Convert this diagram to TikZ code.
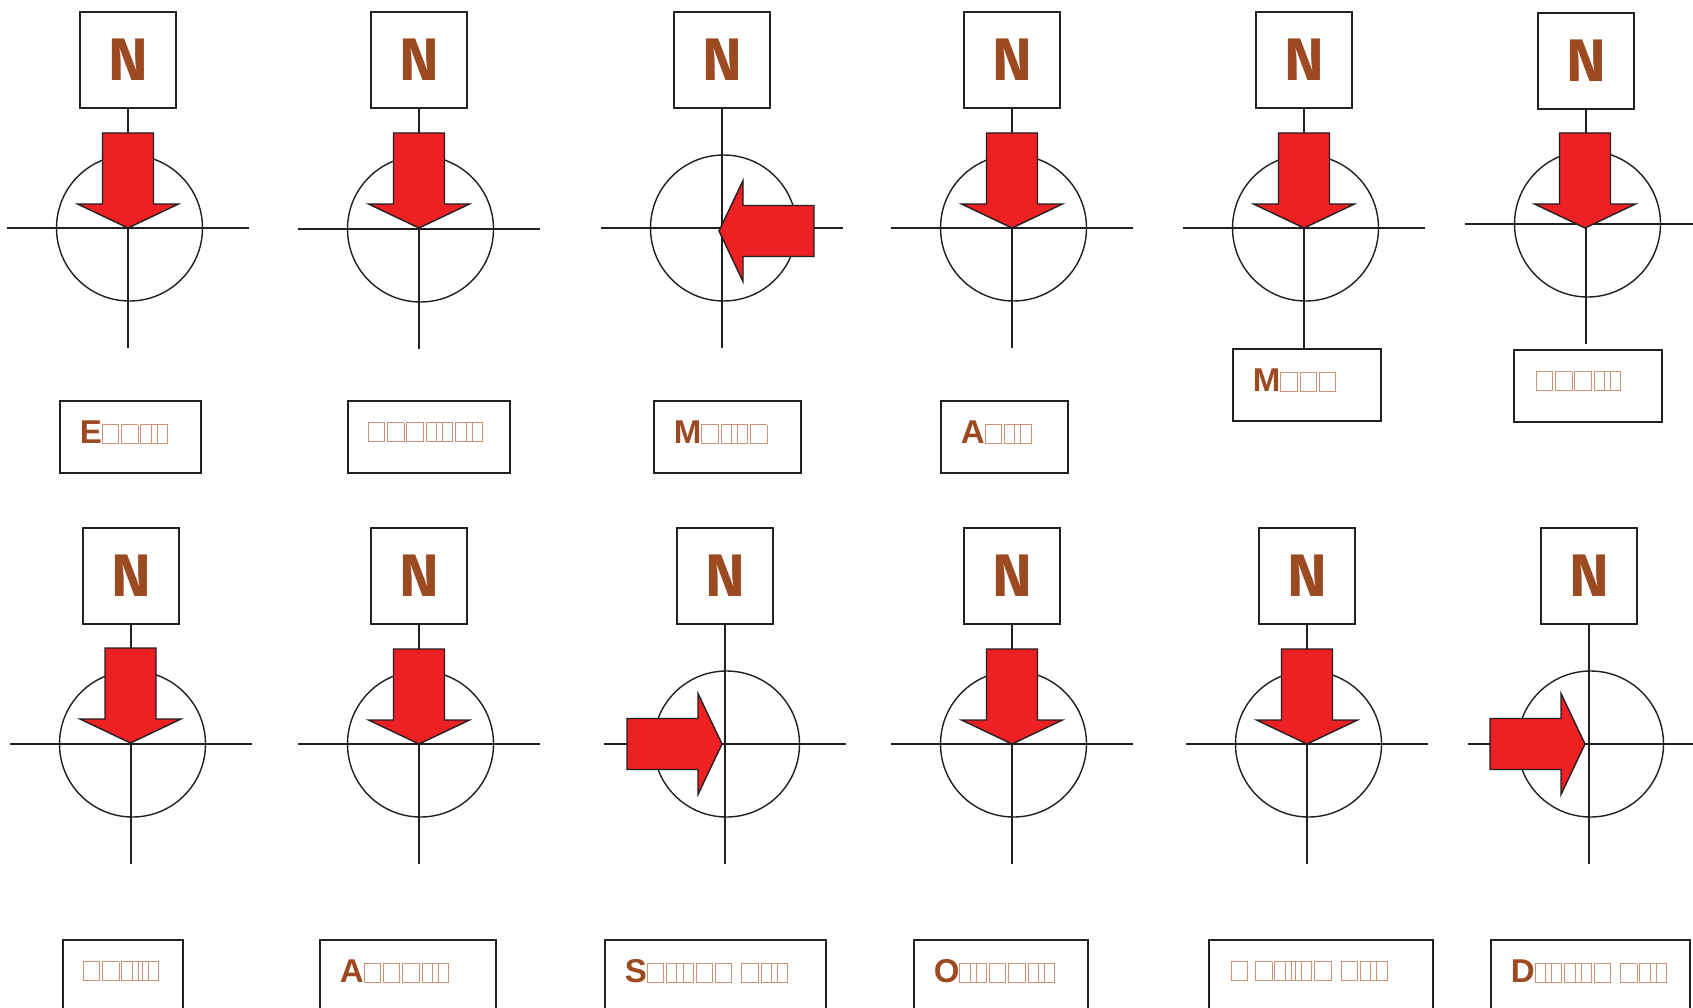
\documentclass[tikz,border=0pt]{standalone}
\usepackage{fontspec}
\setmainfont{Liberation Sans}
\newfontfamily\nfont{Fira Sans}
\usetikzlibrary{positioning}
\definecolor{ink}{RGB}{35,31,32}
\definecolor{red}{RGB}{237,32,36}
\definecolor{brown}{RGB}{156,74,34}
\definecolor{tofu}{RGB}{204,146,118}
\newcommand\tofubox{\textcolor{tofu}{\fboxsep=0pt\fboxrule=0.9pt\fbox{\rule{0pt}{18pt}\rule{15.5pt}{0pt}}}\kern2pt}
\newcommand\tofulap{\kern-9pt\tofubox}
\tikzset{
  nbox/.style={draw=ink, line width=1.4pt, minimum size=96pt, inner sep=0pt,
    font={\nfont\bfseries\fontsize{60}{60}\selectfont}, text=brown},
  ring/.style={circle, draw=ink, line width=1.4pt, minimum size=146pt, inner sep=0pt},
  axis/.style={draw=ink, line width=1.4pt},
  dirarrow/.style={draw=ink, fill=red, line width=1.4pt, line join=miter},
  lbl/.style={draw=ink, line width=1.6pt, anchor=north west, minimum height=72pt,
    inner xsep=20pt, inner ysep=0pt, align=left, text depth=10pt,
    font={\bfseries\fontsize{33}{36}\selectfont}, text=brown}
}
\begin{document}
\begin{tikzpicture}[x=1pt,y=-1pt]
    \useasboundingbox[fill=white] (0,0) rectangle (1693,1008);
    % compass symbols
    \foreach \i/\cx/\cy/\ny in {1/128/228/60, 2/419/229/60, 3/722/228/60, 4/1012/228/60,
        5/1304/228/60, 6/1586/224/61, 7/131/744/576, 8/419/744/576, 9/725/744/576,
        10/1012/744/576, 11/1307/744/576, 12/1589/744/576} {
        \node[nbox] (n\i) at (\cx,\ny) {N};
        \node[ring] (c\i) at (\cx+1.5,\cy) {};
        \coordinate (w\i) at (\cx-121,\cy);
        \coordinate (e\i) at (\cx+121,\cy);
        \coordinate (s\i) at (\cx,\cy+120);
        \draw[axis] (w\i) -- (e\i);
        \draw[axis] (n\i) -- (s\i);
    }
    % wind arrows
    \foreach \tx/\ty/\ang in {128/228/0, 419/228/0, 719/231/-90, 1012/228/0, 1304/228/0,
        1585/228/0, 130.5/743/0, 419/744/0, 722/744/90, 1012/744/0, 1307/744/0, 1585/744/90} {
        \draw[dirarrow, shift={(\tx,\ty)}, rotate=\ang] (0,0) -- (-50.5,-24) -- (-25.5,-24)
            -- (-25.5,-95) -- (25.5,-95) -- (25.5,-24) -- (50.5,-24) -- cycle;
    }
    % labels
    \node[lbl, text width=101pt] (l1) at (59,400) {E\tofubox\tofubox\tofubox\tofulap};
    \node[lbl, text width=122pt] (l2) at (347,400) {\tofubox\tofubox\tofubox\tofubox\tofulap\tofubox\tofulap};
    \node[lbl, text width=107pt] (l3) at (653,400) {M\tofubox\tofubox\tofulap\tofubox};
    \node[lbl, text width=87pt] (l4) at (940,400) {A\tofubox\tofubox\tofulap};
    \node[lbl, text width=108pt] (l5) at (1232,348) {M\tofubox\tofubox\tofubox};
    \node[lbl, text width=104pt, inner xsep=22pt] (l6) at (1513,349) {\tofubox\tofubox\tofubox\tofubox\tofulap};
    \node[lbl, text width=80pt] (l7) at (62,939) {\tofubox\tofubox\tofubox\tofulap\tofulap};
    \node[lbl, text width=136pt] (l8) at (319,939) {A\tofubox\tofubox\tofubox\tofubox\tofulap};
    \node[lbl, text width=181pt] (l9) at (604,939) {S\tofubox\tofubox\tofulap\tofubox\tofubox\kern7pt\tofubox\tofubox\tofulap};
    \node[lbl, text width=134pt] (l10) at (913,939) {O\tofubox\tofulap\tofubox\tofubox\tofubox\tofulap};
    \node[lbl, text width=180pt, inner xsep=22pt] (l11) at (1208,939) {\tofubox\kern5pt\tofubox\tofubox\tofulap\tofulap\tofubox\kern7pt\tofubox\tofubox\tofulap};
    \node[lbl, text width=159pt] (l12) at (1490,939) {D\tofubox\tofulap\tofubox\tofulap\tofubox\kern7pt\tofubox\tofubox\tofulap};
\end{tikzpicture}
\end{document}
